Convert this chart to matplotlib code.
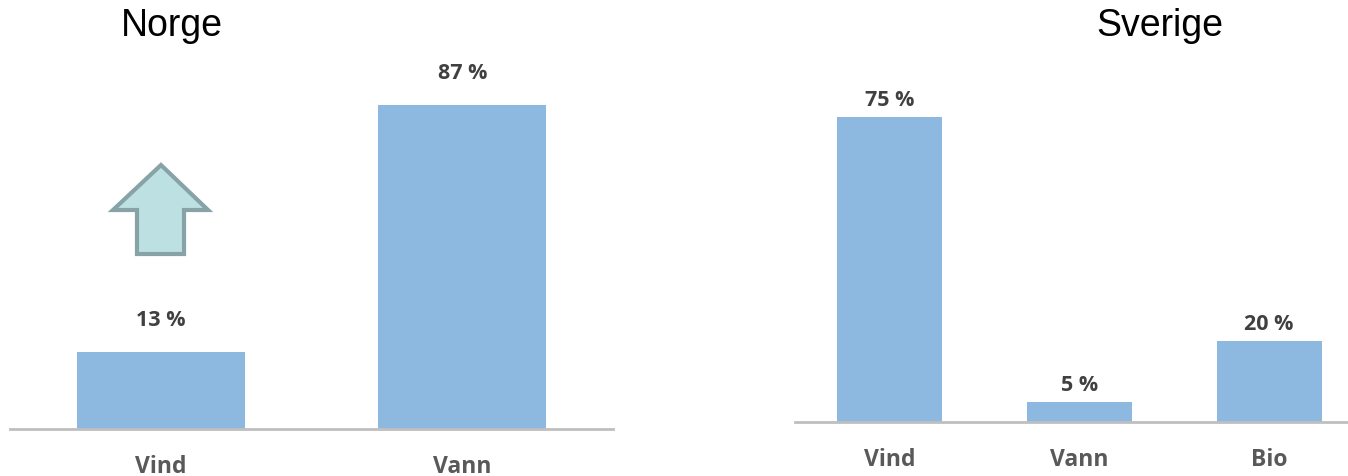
import matplotlib
matplotlib.use("Agg")
import matplotlib.pyplot as plt
from matplotlib.patches import Polygon

# ---- data ----
norge_categories = ["Vind", "Vann"]
norge_values = [13, 87]
sverige_categories = ["Vind", "Vann", "Bio"]
sverige_values = [75, 5, 20]
titles = ["Norge", "Sverige"]

BAR = "#8DB8E0"
AXIS = "#BFBFBF"
LABEL = "#404040"
TICK = "#595959"
VFONT = "Open Sans"

fig = plt.figure(figsize=(13.48, 4.77), dpi=100)

def style(ax, cats, ymin, ymax):
    ax.set_ylim(ymin, ymax)
    ax.set_xlim(-0.5, len(cats) - 0.5)
    for s in ["top", "right", "left"]:
        ax.spines[s].set_visible(False)
    ax.spines["bottom"].set_color(AXIS)
    ax.spines["bottom"].set_linewidth(2)
    ax.set_yticks([])
    ax.set_xticks(range(len(cats)))
    ax.set_xticklabels(cats, fontfamily=VFONT, fontweight="bold", fontsize=16.5, color=TICK)
    ax.tick_params(axis="x", length=0, pad=18)
    ax.patch.set_alpha(0)

# Norge
ax1 = fig.add_axes([10/1348, 47/477, 603/1348, 380/477])
base1 = -10
bars1 = ax1.bar(range(len(norge_categories)), [v - base1 for v in norge_values], bottom=base1,
                width=0.557, color=BAR)
style(ax1, norge_categories, base1, base1 + 380/3.338)
for i, v in enumerate(norge_values):
    ax1.annotate(f"{v} %", (i, v), xytext=(0, 16), textcoords="offset points",
                 ha="center", va="bottom", fontfamily=VFONT, fontweight="bold",
                 fontsize=15.5, color=LABEL)
fig.text(172/1348, 1 - 26/477, titles[0], fontfamily="Liberation Sans", fontsize=27,
         ha="center", va="center", color="black")

# arrow (axes fraction coords)
arrow_pts = [(0.2504, 0.6947), (0.3284, 0.5763), (0.2886, 0.5763), (0.2886, 0.4605),
             (0.2106, 0.4605), (0.2106, 0.5763), (0.1708, 0.5763)]
ax1.add_patch(Polygon(arrow_pts, closed=True, transform=ax1.transAxes,
                      facecolor="#BDE0E2", edgecolor="#87A3A6", linewidth=3,
                      joinstyle="miter", clip_on=False))

# Sverige
ax2 = fig.add_axes([795/1348, 54/477, 569/1348, 363/477])
bars2 = ax2.bar(range(len(sverige_categories)), sverige_values, width=0.554, color=BAR)
style(ax2, sverige_categories, 0, 363/4.067)
for i, v in enumerate(sverige_values):
    ax2.annotate(f"{v} %", (i, v), xytext=(0, 5), textcoords="offset points",
                 ha="center", va="bottom", fontfamily=VFONT, fontweight="bold",
                 fontsize=15.5, color=LABEL)
fig.text(1160/1348, 1 - 26/477, titles[1], fontfamily="Liberation Sans", fontsize=27,
         ha="center", va="center", color="black")

fig.savefig("out.png", dpi=100)
